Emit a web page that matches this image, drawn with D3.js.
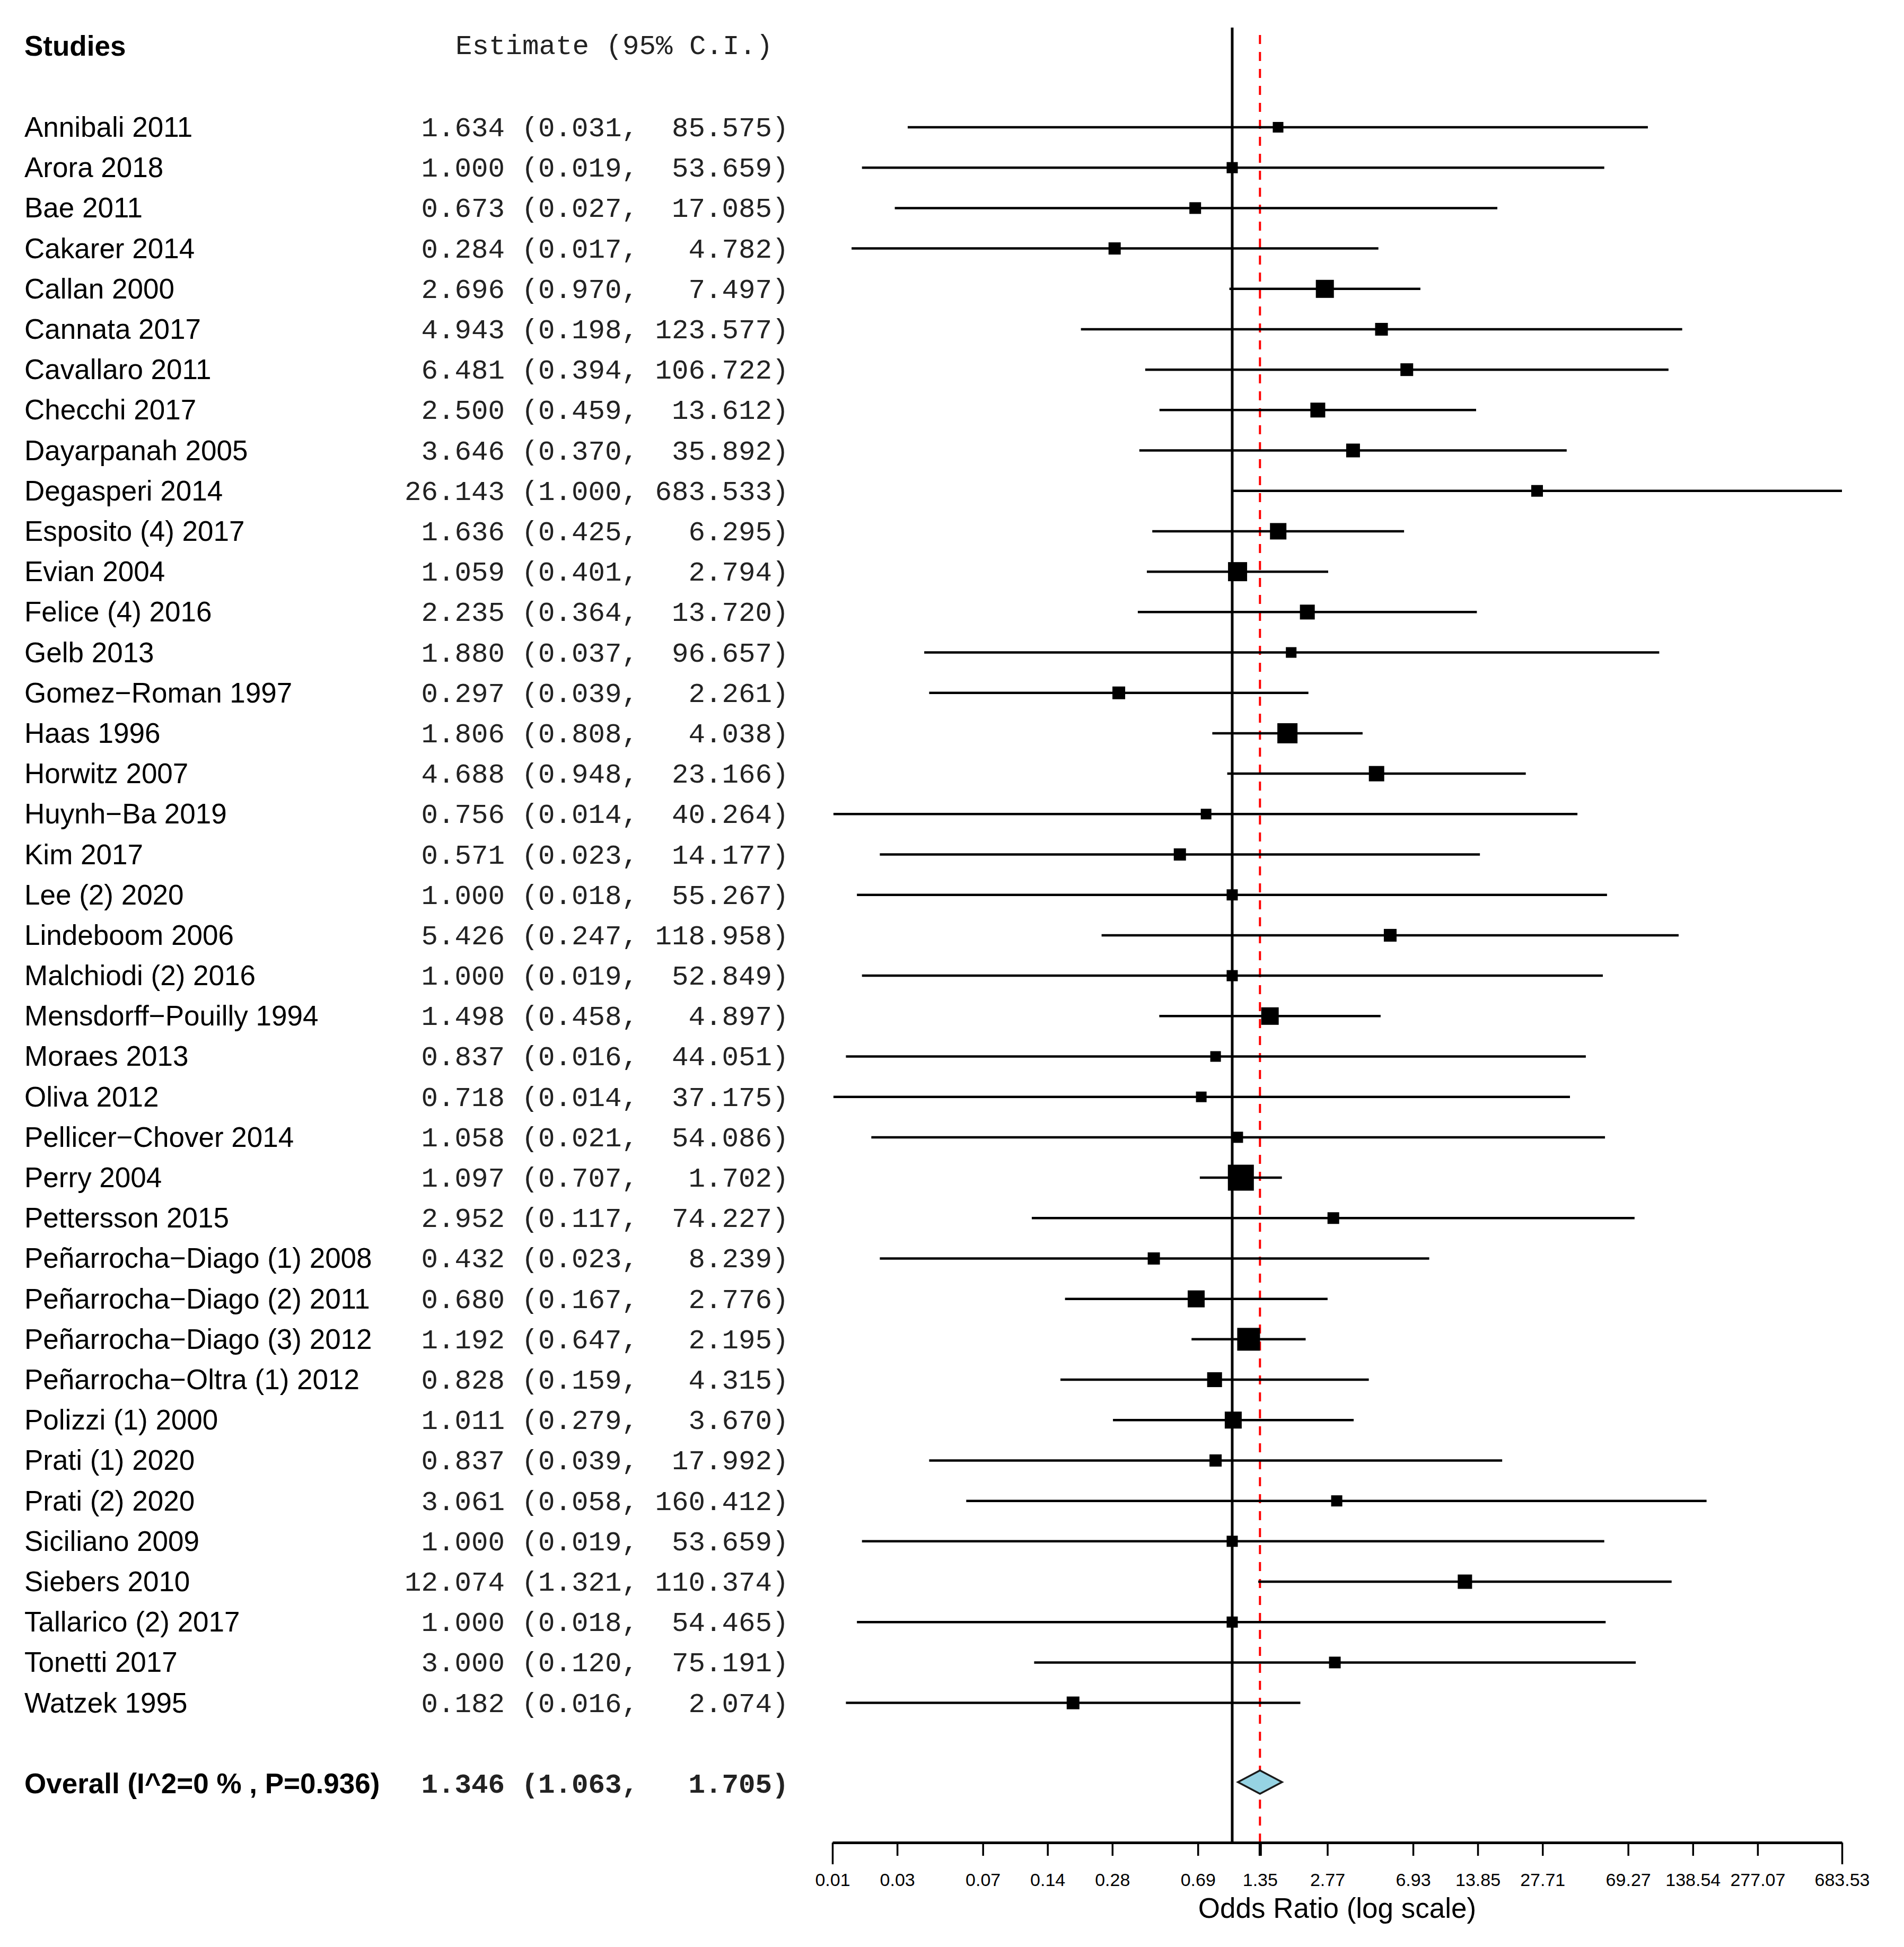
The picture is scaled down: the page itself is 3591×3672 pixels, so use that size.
<!DOCTYPE html>
<html>
<head>
<meta charset="utf-8">
<script src="https://cdn.jsdelivr.net/npm/d3@7"></script>
<style>
  body { margin: 0; background: #fff; }
  svg { display: block; }
</style>
</head>
<body>
<svg id="chart"></svg>
<script>
// ---- data ----
const studies = [
  "Annibali 2011", "Arora 2018", "Bae 2011", "Cakarer 2014", "Callan 2000",
  "Cannata 2017", "Cavallaro 2011", "Checchi 2017", "Dayarpanah 2005", "Degasperi 2014",
  "Esposito (4) 2017", "Evian 2004", "Felice (4) 2016", "Gelb 2013", "Gomez\u2212Roman 1997",
  "Haas 1996", "Horwitz 2007", "Huynh\u2212Ba 2019", "Kim 2017", "Lee (2) 2020",
  "Lindeboom 2006", "Malchiodi (2) 2016", "Mensdorff\u2212Pouilly 1994", "Moraes 2013", "Oliva 2012",
  "Pellicer\u2212Chover 2014", "Perry 2004", "Pettersson 2015", "Peñarrocha\u2212Diago (1) 2008", "Peñarrocha\u2212Diago (2) 2011",
  "Peñarrocha\u2212Diago (3) 2012", "Peñarrocha\u2212Oltra (1) 2012", "Polizzi (1) 2000", "Prati (1) 2020", "Prati (2) 2020",
  "Siciliano 2009", "Siebers 2010", "Tallarico (2) 2017", "Tonetti 2017", "Watzek 1995"
];
const estimates = [
  1.634, 1.000, 0.673, 0.284, 2.696, 4.943, 6.481, 2.500, 3.646, 26.143,
  1.636, 1.059, 2.235, 1.880, 0.297, 1.806, 4.688, 0.756, 0.571, 1.000,
  5.426, 1.000, 1.498, 0.837, 0.718, 1.058, 1.097, 2.952, 0.432, 0.680,
  1.192, 0.828, 1.011, 0.837, 3.061, 1.000, 12.074, 1.000, 3.000, 0.182
];
const lowerCI = [
  0.031, 0.019, 0.027, 0.017, 0.970, 0.198, 0.394, 0.459, 0.370, 1.000,
  0.425, 0.401, 0.364, 0.037, 0.039, 0.808, 0.948, 0.014, 0.023, 0.018,
  0.247, 0.019, 0.458, 0.016, 0.014, 0.021, 0.707, 0.117, 0.023, 0.167,
  0.647, 0.159, 0.279, 0.039, 0.058, 0.019, 1.321, 0.018, 0.120, 0.016
];
const upperCI = [
  85.575, 53.659, 17.085, 4.782, 7.497, 123.577, 106.722, 13.612, 35.892, 683.533,
  6.295, 2.794, 13.720, 96.657, 2.261, 4.038, 23.166, 40.264, 14.177, 55.267,
  118.958, 52.849, 4.897, 44.051, 37.175, 54.086, 1.702, 74.227, 8.239, 2.776,
  2.195, 4.315, 3.670, 17.992, 160.412, 53.659, 110.374, 54.465, 75.191, 2.074
];
// relative study weights (%)
const weights = [
  1.39, 1.53, 1.68, 1.83, 4.01, 2.00, 2.00, 2.72, 2.34, 1.68,
  3.33, 4.49, 2.72, 1.39, 2.00, 5.00, 2.91, 1.39, 1.83, 1.53,
  2.00, 1.53, 3.77, 1.39, 1.39, 1.53, 8.32, 1.68, 1.83, 3.55,
  6.41, 2.72, 3.55, 1.83, 1.53, 1.53, 2.53, 1.53, 1.68, 2.00
];
const overallLabel = "Overall (I^2=0 % , P=0.936)";
const overallValues = [1.346, 1.063, 1.705]; // estimate, lower, upper

const tickValues = [0.01385, 0.0277, 0.0693, 0.1385, 0.277, 0.6925, 1.346, 2.77,
  6.93, 13.85, 27.71, 69.27, 138.54, 277.07, 683.53];
const tickLabels = ["0.01", "0.03", "0.07", "0.14", "0.28", "0.69", "1.35", "2.77",
  "6.93", "13.85", "27.71", "69.27", "138.54", "277.07", "683.53"];

// ---- layout ----
const W = 3591, H = 3672;
const SANS = "'Liberation Sans', Arial, sans-serif";
const MONO = "'Liberation Mono', 'Courier New', monospace";
const FS = 53;      // study names
const FS_MONO = 52.5;
const axisY = 3475;

const svg = d3.select("#chart").attr("width", W).attr("height", H);
svg.append("rect").attr("width", W).attr("height", H).attr("fill", "#fff");

const x = d3.scaleLog().domain([tickValues[0], tickValues[tickValues.length - 1]]).range([1570, 3474]).clamp(true);
const y = d3.scaleLinear().domain([0, 41]).range([240, 3364]);
const box = d3.scaleSqrt().domain([0, d3.max(weights)]).range([0, 49]);

const f3 = d3.format(".3f");
const ciText = (e, l, u) => f3(e).padStart(6) + " (" + f3(l) + ", " + f3(u).padStart(7) + ")";

// headers
svg.append("text")
  .attr("x", 46).attr("y", 105)
  .style("font-family", SANS).style("font-size", FS + "px").style("font-weight", "bold")
  .text("Studies");
svg.append("text")
  .attr("x", 859).attr("y", 102)
  .style("font-family", MONO).style("font-size", FS_MONO + "px").style("fill", "#222")
  .style("white-space", "pre")
  .text("Estimate (95% C.I.)");

// reference lines
svg.append("line")
  .attr("x1", x(1)).attr("x2", x(1)).attr("y1", 52).attr("y2", axisY)
  .attr("stroke", "#000").attr("stroke-width", 5);
svg.append("line")
  .attr("x1", x(overallValues[0])).attr("x2", x(overallValues[0])).attr("y1", 66).attr("y2", axisY)
  .attr("stroke", "#ff0000").attr("stroke-width", 4).attr("stroke-dasharray", "17,15");

// study rows
const rows = studies.map((s, i) => ({
  name: s, est: estimates[i], lo: lowerCI[i], hi: upperCI[i], w: weights[i], i
}));

const textGroup = svg.append("g").attr("class", "text-layer");
textGroup.selectAll("text.name").data(rows).join("text")
  .attr("class", "name")
  .attr("x", 46).attr("y", d => y(d.i) + 18)
  .style("font-family", SANS).style("font-size", FS + "px")
  .text(d => d.name);
textGroup.selectAll("text.ci").data(rows).join("text")
  .attr("class", "ci")
  .attr("x", 763).attr("y", d => y(d.i) + 17)
  .style("font-family", MONO).style("font-size", FS_MONO + "px").style("fill", "#222")
  .style("white-space", "pre")
  .text(d => ciText(d.est, d.lo, d.hi));

const plotGroup = svg.append("g").attr("class", "plot-layer");
plotGroup.selectAll("line.ci").data(rows).join("line")
  .attr("class", "ci")
  .attr("x1", d => x(d.lo)).attr("x2", d => x(d.hi))
  .attr("y1", d => y(d.i)).attr("y2", d => y(d.i))
  .attr("stroke", "#000").attr("stroke-width", 4.5);
plotGroup.selectAll("rect.box").data(rows).join("rect")
  .attr("class", "box")
  .attr("x", d => x(d.est) - box(d.w) / 2)
  .attr("y", d => y(d.i) - box(d.w) / 2)
  .attr("width", d => box(d.w)).attr("height", d => box(d.w))
  .attr("fill", "#000");

// overall row
const oy = y(41);
svg.append("text")
  .attr("x", 46).attr("y", oy + 18)
  .style("font-family", SANS).style("font-size", FS + "px").style("font-weight", "bold")
  .text(overallLabel);
svg.append("text")
  .attr("x", 763).attr("y", oy + 17)
  .style("font-family", MONO).style("font-size", FS_MONO + "px").style("font-weight", "bold").style("fill", "#222")
  .style("white-space", "pre")
  .text(ciText(overallValues[0], overallValues[1], overallValues[2]));
const dy = 22;
svg.append("path")
  .attr("d", `M${x(overallValues[1])},${oy - 3}L${x(overallValues[0])},${oy - 3 - dy}L${x(overallValues[2])},${oy - 3}L${x(overallValues[0])},${oy - 3 + dy}Z`)
  .attr("fill", "#96d3e3").attr("stroke", "#1a1a1a").attr("stroke-width", 3.5)
  .attr("stroke-linejoin", "miter");

// x axis
const axis = d3.axisBottom(x)
  .tickValues(tickValues)
  .tickFormat((d, i) => tickLabels[i])
  .tickSize(25)
  .tickSizeOuter(0);
const ag = svg.append("g").attr("transform", `translate(0,${axisY})`).call(axis);
ag.select(".domain").attr("stroke", "#000").attr("stroke-width", 5);
ag.selectAll(".tick line").attr("stroke", "#000").attr("stroke-width", 3.5)
  .attr("y2", (d, i) => (i === 0 || i === tickValues.length - 1) ? 41 : 25);
ag.selectAll(".tick").filter((d, i) => i === 6).select("line").attr("stroke-width", 6);
ag.selectAll(".tick text")
  .attr("y", 82).attr("dy", null)
  .style("font-family", SANS).style("font-size", "34px").attr("fill", "#000");

svg.append("text")
  .attr("x", (x.range()[0] + x.range()[1]) / 2).attr("y", 3617)
  .attr("text-anchor", "middle")
  .style("font-family", SANS).style("font-size", FS + "px")
  .text("Odds Ratio (log scale)");
</script>
</body>
</html>
